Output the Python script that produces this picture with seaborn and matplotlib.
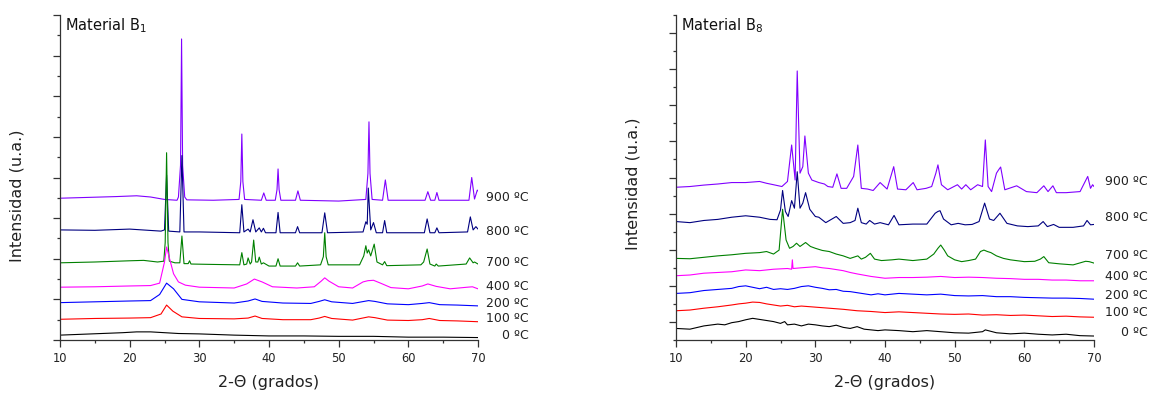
import numpy as np
import pandas as pd
import matplotlib
matplotlib.use("Agg")
import matplotlib.pyplot as plt
from matplotlib.ticker import MultipleLocator
import seaborn as sns

# ---------------- data ----------------
series_names = ["900 ºC", "800 ºC", "700 ºC", "400 ºC", "200 ºC", "100 ºC", "0 ºC"]
series_colors = ["#8000FF", "#000080", "#008000", "#FF00FF", "#0000FF", "#FF0000", "#000000"]

# Material B1
b1_0_x = [10, 13, 16, 19, 21, 23, 25, 27, 30, 35, 40, 45, 50, 55, 60, 65, 70]
b1_0_y = [0.12, 0.14, 0.16, 0.18, 0.20, 0.20, 0.18, 0.16, 0.15, 0.12, 0.10, 0.10, 0.09, 0.09, 0.07, 0.07, 0.06]

b1_100_x = [10, 15, 20, 23, 24.5, 25.3, 26.2, 27.5, 30, 35, 37, 38, 39, 42, 46, 47.2, 48, 49, 52,
            54.3, 55.2, 57, 60, 62, 63, 64.5, 67, 70]
b1_100_y = [0.51, 0.53, 0.54, 0.55, 0.64, 0.86, 0.71, 0.57, 0.53, 0.52, 0.54, 0.59, 0.53, 0.50, 0.50,
            0.54, 0.58, 0.53, 0.49, 0.57, 0.55, 0.49, 0.48, 0.50, 0.53, 0.48, 0.47, 0.45]

b1_200_x = [10, 15, 20, 23, 24.3, 25.3, 26.3, 27.5, 30, 35, 37, 38, 39, 42, 46, 47.2, 48, 49, 52,
            54.3, 55.2, 57, 60, 62, 63, 64.5, 67, 70]
b1_200_y = [0.92, 0.94, 0.96, 0.97, 1.12, 1.40, 1.26, 1.00, 0.94, 0.91, 0.96, 1.01, 0.95, 0.91, 0.90,
            0.95, 0.99, 0.94, 0.90, 0.97, 0.95, 0.89, 0.87, 0.90, 0.92, 0.87, 0.86, 0.84]

b1_400_x = [10, 15, 20, 23, 24.3, 25.0, 25.3, 25.7, 26.3, 27, 28, 30, 35, 36.8, 37.9, 39, 40.5, 44,
            46.5, 47.5, 48, 48.6, 50, 52, 53.5, 54.2, 55, 56, 57.5, 60, 62, 62.8, 64, 66, 68.5, 69.2, 70]
b1_400_y = [1.30, 1.31, 1.33, 1.34, 1.40, 1.92, 2.29, 2.02, 1.63, 1.43, 1.35, 1.30, 1.28, 1.38, 1.50,
            1.43, 1.31, 1.28, 1.31, 1.45, 1.53, 1.45, 1.31, 1.28, 1.43, 1.46, 1.47, 1.40, 1.29, 1.26,
            1.33, 1.38, 1.32, 1.26, 1.30, 1.31, 1.26]

b1_700_x = [10, 15, 20, 22, 24, 24.9, 25.1, 25.3, 25.5, 25.7, 26.5, 27.2, 27.5, 27.8, 28.4, 28.6, 28.8,
            32, 35.8, 36.1, 36.4, 36.8, 37.0, 37.3, 37.5, 37.8, 38.1, 38.4, 38.6, 38.9, 39.2, 40,
            41.0, 41.3, 41.6, 43.8, 44.1, 44.4, 47.4, 47.8, 48.0, 48.2, 48.5, 53.0, 53.6, 53.9, 54.1,
            54.3, 54.6, 55.1, 55.5, 56.3, 56.6, 56.9, 61.8, 62.2, 62.7, 63.1, 63.8, 64.0, 64.3,
            68.3, 68.8, 69.3, 69.5, 70]
b1_700_y = [1.90, 1.92, 1.95, 1.96, 1.92, 1.94, 2.40, 4.61, 2.40, 1.94, 1.90, 1.90, 2.56, 1.88, 1.88,
            1.95, 1.87, 1.86, 1.85, 2.15, 1.85, 1.87, 2.02, 1.87, 1.92, 2.46, 1.92, 1.92, 2.04, 1.87,
            1.90, 1.82, 1.82, 2.00, 1.82, 1.82, 1.90, 1.82, 1.85, 2.05, 2.64, 2.05, 1.85, 1.85, 2.07,
            2.32, 2.14, 2.22, 2.07, 2.36, 1.92, 1.85, 1.93, 1.83, 1.85, 1.92, 2.24, 1.87, 1.82, 1.87,
            1.82, 1.87, 2.02, 1.90, 1.92, 1.87]

b1_800_x = [10, 15, 20, 24.5, 25.0, 25.3, 25.6, 27.2, 27.5, 27.8, 30, 35.8, 36.1, 36.4, 37.0, 37.3,
            37.7, 38.1, 38.6, 38.9, 39.2, 39.5, 41.0, 41.3, 41.6, 43.8, 44.1, 44.4, 47.6, 48.0, 48.4,
            53.5, 53.9, 54.1, 54.25, 54.6, 55.0, 55.4, 56.3, 56.6, 56.9, 62.3, 62.7, 63.1, 63.8, 64.1,
            64.4, 68.5, 68.9, 69.3, 69.7, 70]
b1_800_y = [2.71, 2.70, 2.73, 2.68, 2.71, 4.06, 2.68, 2.66, 4.54, 2.66, 2.66, 2.64, 3.33, 2.66, 2.73,
            2.66, 2.96, 2.66, 2.76, 2.66, 2.75, 2.64, 2.64, 3.14, 2.64, 2.64, 2.79, 2.64, 2.64, 3.13,
            2.64, 2.66, 2.91, 2.85, 3.74, 2.71, 2.89, 2.64, 2.64, 2.94, 2.64, 2.64, 2.98, 2.64, 2.64,
            2.76, 2.64, 2.66, 3.03, 2.71, 2.79, 2.73]

b1_900_x = [10, 14, 18, 21, 23, 25, 26.8, 27.0, 27.3, 27.45, 27.6, 27.9, 28.2, 32, 35.7, 35.95, 36.1,
            36.25, 36.5, 38.9, 39.25, 39.6, 40.9, 41.15, 41.3, 41.45, 41.7, 43.8, 44.15, 44.5, 50,
            53.9, 54.2, 54.35, 54.5, 54.8, 56.3, 56.7, 57.1, 62.4, 62.8, 63.2, 63.8, 64.1, 64.4,
            68.7, 69.1, 69.5, 69.9, 70]
b1_900_y = [3.49, 3.51, 3.53, 3.55, 3.52, 3.46, 3.44, 3.52, 4.30, 7.41, 4.30, 3.52, 3.45, 3.44, 3.46,
            3.90, 5.07, 3.90, 3.46, 3.44, 3.62, 3.44, 3.44, 3.70, 4.21, 3.70, 3.44, 3.44, 3.67, 3.44,
            3.42, 3.46, 4.10, 5.37, 4.10, 3.46, 3.44, 3.94, 3.44, 3.44, 3.65, 3.44, 3.44, 3.63, 3.44,
            3.44, 4.00, 3.47, 3.69, 3.67]

# Material B8
b8_0_x = [10, 12, 14, 16, 17, 18, 19, 20, 21, 22, 23, 24, 25, 25.6, 26, 27, 28, 29, 30, 31, 32, 33,
          34, 35, 36, 37, 38, 39, 40, 42, 44, 46, 48, 50, 52, 54, 54.4, 56, 58, 60, 62, 64, 66, 68, 70]
b8_0_y = [-0.18, -0.20, -0.11, -0.06, -0.08, -0.02, 0.01, 0.06, 0.10, 0.07, 0.04, 0.01, -0.04, 0.01,
          -0.08, -0.06, -0.11, -0.06, -0.08, -0.11, -0.13, -0.09, -0.15, -0.18, -0.13, -0.20, -0.22,
          -0.24, -0.22, -0.24, -0.27, -0.24, -0.27, -0.30, -0.31, -0.27, -0.22, -0.30, -0.33, -0.31,
          -0.34, -0.36, -0.34, -0.38, -0.39]

b8_100_x = [10, 12, 14, 16, 18, 19, 20, 21, 22, 23, 24, 25, 26, 27, 28, 30, 32, 34, 36, 38, 40,
            42, 44, 46, 48, 50, 52, 54, 56, 58, 60, 62, 64, 66, 68, 70]
b8_100_y = [0.31, 0.33, 0.38, 0.42, 0.47, 0.50, 0.52, 0.55, 0.54, 0.50, 0.47, 0.44, 0.46, 0.42, 0.44,
            0.41, 0.38, 0.35, 0.31, 0.29, 0.26, 0.28, 0.26, 0.24, 0.22, 0.21, 0.22, 0.19, 0.20, 0.18,
            0.19, 0.17, 0.15, 0.16, 0.14, 0.13]

b8_200_x = [10, 12, 14, 16, 18, 19, 20, 21, 22, 23, 24, 25, 26, 27, 28, 29, 30, 31, 32, 33, 34, 35,
            36, 37, 38, 39, 40, 42, 44, 46, 48, 50, 52, 54, 56, 58, 60, 62, 64, 66, 68, 70]
b8_200_y = [0.79, 0.81, 0.87, 0.90, 0.93, 0.98, 1.00, 0.96, 0.92, 0.96, 0.90, 0.92, 0.90, 0.93, 0.98,
            1.00, 0.96, 0.93, 0.89, 0.90, 0.85, 0.84, 0.81, 0.78, 0.75, 0.78, 0.75, 0.79, 0.77, 0.75,
            0.77, 0.73, 0.72, 0.73, 0.70, 0.70, 0.68, 0.67, 0.66, 0.66, 0.65, 0.63]

b8_400_x = [10, 12, 14, 16, 18, 20, 22, 24, 26, 26.6, 26.7, 26.8, 28, 30, 31, 32, 34, 35, 36, 38, 40,
            42, 44, 46, 48, 50, 52, 54, 56, 58, 60, 62, 64, 66, 68, 70]
b8_400_y = [1.28, 1.30, 1.35, 1.37, 1.39, 1.44, 1.42, 1.46, 1.48, 1.46, 1.72, 1.48, 1.50, 1.53, 1.50,
            1.48, 1.42, 1.37, 1.33, 1.26, 1.21, 1.23, 1.23, 1.24, 1.26, 1.23, 1.24, 1.23, 1.21, 1.20,
            1.18, 1.18, 1.16, 1.16, 1.14, 1.14]

b8_700_x = [10, 12, 14, 16, 18, 20, 22, 23, 24, 24.8, 25.3, 25.8, 26.3, 26.8, 27.3, 27.8, 28.6, 29.3,
            30, 31, 32, 33, 34, 35, 36.1, 36.6, 37.2, 37.9, 38.5, 39.5, 41, 42, 44, 45, 46, 47, 47.6,
            48.0, 48.5, 49, 50, 51, 52, 53, 53.7, 54.2, 54.7, 55.2, 56, 57, 58, 60, 61.5, 62.3, 62.8,
            63.5, 65, 67, 68.8, 69.3, 70]
b8_700_y = [1.76, 1.75, 1.79, 1.83, 1.86, 1.90, 1.92, 1.95, 1.88, 1.99, 3.12, 2.27, 2.04, 2.09, 2.18,
            2.09, 2.20, 2.09, 2.04, 1.98, 1.95, 1.88, 1.83, 1.76, 1.83, 1.74, 1.79, 1.90, 1.74, 1.70,
            1.72, 1.74, 1.70, 1.72, 1.74, 1.88, 2.04, 2.13, 1.99, 1.83, 1.72, 1.67, 1.70, 1.74, 1.95,
            1.99, 1.95, 1.92, 1.83, 1.76, 1.72, 1.67, 1.68, 1.74, 1.81, 1.64, 1.61, 1.58, 1.68, 1.67,
            1.63]

b8_800_x = [10, 12, 14, 16, 18, 20, 22, 23.5, 24.5, 25.0, 25.3, 25.7, 26.1, 26.6, 27.0, 27.4, 27.8,
            28.2, 28.6, 29.2, 30, 30.5, 31.5, 33.0, 34, 35, 35.7, 36.1, 36.6, 37.3, 37.8, 38.5, 39.3,
            40.5, 41.3, 42, 44, 46, 47.2, 47.6, 47.9, 48.4, 49.5, 50.5, 51.5, 52.5, 53.5, 54.3, 55.0,
            55.6, 56.5, 57.5, 59, 60.5, 62, 62.7, 63.3, 64.2, 65, 67, 68.5, 69.0, 69.5, 70]
b8_800_y = [2.78, 2.75, 2.81, 2.84, 2.90, 2.94, 2.90, 2.84, 2.83, 3.10, 3.64, 3.06, 2.92, 3.36, 3.15,
            4.16, 3.15, 3.29, 3.58, 3.12, 2.92, 2.90, 2.75, 2.92, 2.73, 2.75, 2.81, 3.15, 2.75, 2.71,
            2.81, 2.71, 2.75, 2.69, 2.95, 2.69, 2.71, 2.71, 3.01, 3.06, 3.08, 2.85, 2.69, 2.73, 2.69,
            2.70, 2.78, 3.29, 2.85, 2.81, 3.01, 2.73, 2.66, 2.64, 2.66, 2.78, 2.64, 2.70, 2.62, 2.62,
            2.66, 2.81, 2.69, 2.70]

b8_900_x = [10, 12, 14, 16, 18, 20, 22, 23, 24, 25.2, 26.0, 26.6, 27.1, 27.4, 27.8, 28.2, 28.5, 29.0,
            29.5, 30.5, 31.3, 31.8, 32.5, 33.1, 33.7, 34.5, 35.5, 36.1, 36.6, 37.5, 38.3, 39.3, 40.3,
            41.25, 41.8, 43, 44.05, 44.6, 45.9, 46.7, 47.3, 47.6, 48.1, 49, 50.4, 51, 51.6, 52.3, 53.3,
            54.0, 54.4, 54.8, 55.3, 56.0, 56.3, 56.6, 57.2, 58.9, 60.3, 61.8, 62.8, 63.4, 64.1, 64.6,
            66, 68.0, 69.1, 69.5, 69.8, 70]
b8_900_y = [3.73, 3.75, 3.79, 3.82, 3.86, 3.86, 3.89, 3.84, 3.80, 3.75, 3.89, 4.90, 3.93, 6.95, 4.12,
            4.30, 5.15, 4.12, 3.93, 3.86, 3.82, 3.75, 3.73, 4.10, 3.70, 3.70, 4.03, 4.90, 3.70, 3.68,
            3.64, 3.86, 3.68, 4.30, 3.68, 3.66, 3.86, 3.66, 3.70, 3.75, 4.12, 4.35, 3.80, 3.66, 3.80,
            3.68, 3.80, 3.66, 3.80, 3.75, 5.04, 3.75, 3.61, 4.12, 4.21, 4.29, 3.66, 3.77, 3.61, 3.58,
            3.77, 3.61, 3.77, 3.58, 3.58, 3.61, 4.03, 3.70, 3.80, 3.75]

# label positions (right side of each panel)
b1_label_y = [3.50, 2.68, 1.90, 1.31, 0.91, 0.52, 0.12]
b8_label_y = [3.88, 2.88, 1.83, 1.25, 0.72, 0.25, -0.30]
panel_titles = ["Material B$_1$", "Material B$_8$"]
x_label = "2-\u0398 (grados)"
y_label = "Intensidad (u.a.)"

# ---------------- build long-form tables ----------------
b1_series = [(b1_900_x, b1_900_y), (b1_800_x, b1_800_y), (b1_700_x, b1_700_y),
             (b1_400_x, b1_400_y), (b1_200_x, b1_200_y), (b1_100_x, b1_100_y), (b1_0_x, b1_0_y)]
b8_series = [(b8_900_x, b8_900_y), (b8_800_x, b8_800_y), (b8_700_x, b8_700_y),
             (b8_400_x, b8_400_y), (b8_200_x, b8_200_y), (b8_100_x, b8_100_y), (b8_0_x, b8_0_y)]


def make_df(series):
    frames = []
    for name, (xs, ys) in zip(series_names, series):
        frames.append(pd.DataFrame({"theta": xs, "inten": ys, "serie": name}))
    return pd.concat(frames, ignore_index=True)


df_b1 = make_df(b1_series)
df_b8 = make_df(b8_series)
palette = dict(zip(series_names, series_colors))
hue_order = series_names  # 900 drawn first

# ---------------- figure ----------------
sns.set_style("ticks")
plt.rcParams["font.family"] = ["DejaVu Sans"]
plt.rcParams["mathtext.fontset"] = "dejavusans"

fig = plt.figure(figsize=(11.5, 3.94), dpi=100)
ax1 = fig.add_axes([60 / 1150, 54 / 394, 418 / 1150, 325 / 394])
ax2 = fig.add_axes([676 / 1150, 54 / 394, 418 / 1150, 325 / 394])

for ax, df, ylim, label_y, title, lab_x, ylab_y in [
        (ax1, df_b1, (0, 8), b1_label_y, panel_titles[0], 77.3, 0.445),
        (ax2, df_b8, (-0.5, 8.5), b8_label_y, panel_titles[1], 77.75, 0.48)]:
    sns.lineplot(data=df, x="theta", y="inten", hue="serie", hue_order=hue_order,
                 palette=palette, estimator=None, sort=False, legend=False,
                 linewidth=0.8, ax=ax)
    ax.set_xlim(10, 70)
    ax.set_ylim(*ylim)
    ax.xaxis.set_major_locator(MultipleLocator(10))
    ax.xaxis.set_minor_locator(MultipleLocator(5))
    ax.yaxis.set_major_locator(MultipleLocator(1))
    ax.yaxis.set_minor_locator(MultipleLocator(0.5))
    ax.set_yticklabels([])
    ax.tick_params(axis="x", which="major", direction="out", length=4.8, width=0.9,
                   labelsize=8.3, pad=3.5, color="#333333", labelcolor="#222222")
    ax.tick_params(axis="x", which="minor", direction="out", length=2.5, width=0.9, color="#333333")
    ax.tick_params(axis="y", which="major", direction="out", length=5, width=0.9, color="#333333")
    ax.tick_params(axis="y", which="minor", direction="out", length=2.5, width=0.9, color="#333333")
    for s in ["top", "right"]:
        ax.spines[s].set_visible(False)
    for s in ["left", "bottom"]:
        ax.spines[s].set_linewidth(0.9)
        ax.spines[s].set_color("#333333")
    ax.set_xlabel(x_label, fontsize=11.5, color="#222222")
    ax.set_ylabel(y_label, fontsize=11.5, color="#222222")
    ax.xaxis.set_label_coords(0.5, -0.108)
    ax.yaxis.set_label_coords(-0.085, ylab_y)
    ax.text(0.012, 0.953, title, transform=ax.transAxes, ha="left", va="baseline",
            fontsize=10.5, color="#111111")
    for name, yv in zip(series_names, label_y):
        ax.text(lab_x, yv, name, ha="right", va="center", fontsize=9,
                color="#222222", clip_on=False)

fig.savefig("out.png", dpi=100)
